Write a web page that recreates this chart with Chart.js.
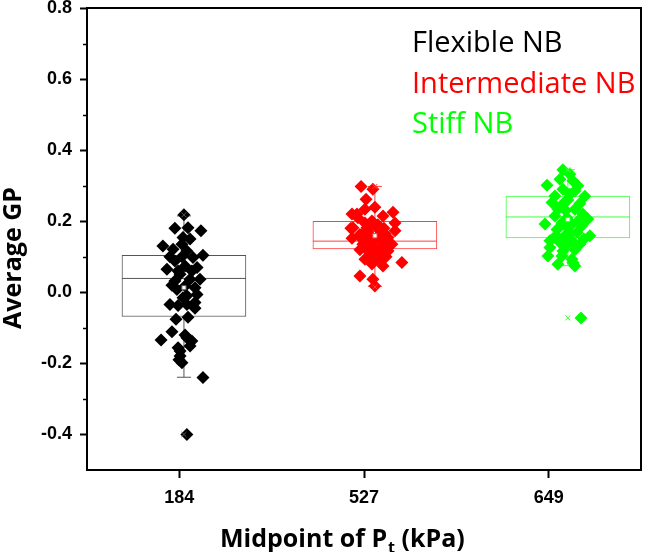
<!DOCTYPE html>
<html>
<head>
<meta charset="utf-8">
<title>Average GP</title>
<script src="https://cdn.jsdelivr.net/npm/chart.js@4.4.0/dist/chart.umd.min.js"></script>
<style>
  html, body { margin: 0; padding: 0; background: #fff; }
  canvas { display: block; }
</style>
</head>
<body>
<canvas id="chart" width="666" height="552"></canvas>
<script>
// categories sit at x = 1, 2, 3
const tickLabels = ["184", "527", "649"];
const groupNames = ["Flexible NB", "Intermediate NB", "Stiff NB"];
const groupColors = ["#000000", "#ff0000", "#00ff00"];
const boxColors = ["#555555", "#ff4040", "#40ff40"];
const yTickValues = [-0.4, -0.2, 0.0, 0.2, 0.4, 0.6, 0.8];
const yMinorTicks = [-0.3, -0.1, 0.1, 0.3, 0.5, 0.7];

// box statistics
const boxCenter = [1.025, 2.059, 3.104];
const q1 = [-0.068, 0.122, 0.153];
const median = [0.039, 0.144, 0.212];
const q3 = [0.104, 0.200, 0.271];
const whiskerLow = [-0.239, 0.017, 0.075];
const whiskerHigh = [0.215, 0.298, 0.345];
const meanVal = [0.013, 0.159, 0.205];
const minVal = [-0.400, 0.015, -0.072];
const maxVal = [0.218, 0.298, 0.345];

// scattered points (jittered x, average GP)
const flexX = [1.025, 0.976, 1.047, 1.117, 1.020, 0.911, 0.966, 1.014, 1.041, 1.128,
               1.074, 0.976, 0.933, 1.031, 1.096, 1.004, 1.112, 0.976, 1.058, 1.031,
               1.085, 0.987, 1.096, 1.041, 0.949, 0.993, 1.041, 1.085, 0.982, 1.047,
               0.960, 0.901, 1.041, 1.068, 1.058, 0.993, 1.004, 1.014, 0.998, 1.128,
               1.041, 0.949, 1.058, 0.993, 1.068, 1.020, 0.960, 1.014, 1.085, 1.004, 1.031];
const flexY = [0.218, 0.180, 0.182, 0.173, 0.154, 0.130, 0.121, 0.135, 0.116, 0.104,
               0.098, 0.088, 0.065, 0.074, 0.070, 0.051, 0.037, 0.032, 0.037, 0.018,
               0.013, 0.008, -0.006, -0.010, -0.034, -0.037, -0.034, -0.029, -0.076, -0.070,
               -0.111, -0.134, -0.128, -0.137, -0.151, -0.156, -0.179, -0.198, -0.190, -0.240,
               -0.400, 0.100, 0.150, 0.060, 0.060, -0.015, 0.020, 0.100, -0.045, -0.165, -0.120];

const midX = [1.984, 2.048, 2.011, 2.005, 2.059, 2.157, 1.935, 1.967, 2.103, 2.043,
              1.940, 2.168, 2.016, 2.086, 1.978, 2.130, 2.048, 1.994, 2.103, 2.021,
              2.075, 2.130, 2.005, 2.103, 2.205, 2.070, 1.978, 2.048, 2.059, 1.962,
              1.929, 1.935, 2.075, 2.113, 2.032, 2.151, 2.086, 2.059, 1.978, 2.119,
              2.032, 2.168, 2.005, 2.097, 2.043, 2.011,
              2.021, 2.064, 2.108, 1.989, 2.038, 2.081, 2.016, 2.124, 2.054, 2.092];
const midY = [0.298, 0.290, 0.262, 0.234, 0.239, 0.225, 0.220, 0.210, 0.215, 0.201,
              0.182, 0.173, 0.182, 0.173, 0.163, 0.154, 0.145, 0.135, 0.130, 0.116,
              0.112, 0.116, 0.093, 0.074, 0.084, 0.093, 0.046, 0.037, 0.018, 0.220,
              0.180, 0.152, 0.190, 0.165, 0.160, 0.135, 0.150, 0.125, 0.120, 0.100,
              0.105, 0.195, 0.195, 0.140, 0.080, 0.145,
              0.170, 0.185, 0.180, 0.150, 0.130, 0.160, 0.175, 0.125, 0.105, 0.095];

const stiffX = [3.077, 3.115, 3.061, 2.991, 3.131, 3.077, 3.196, 3.034, 3.115, 3.018,
                3.088, 3.050, 3.142, 3.185, 3.099, 3.212, 2.980, 3.126, 3.180, 3.045,
                3.153, 3.223, 3.088, 3.007, 3.126, 3.169, 3.007, 3.077, 2.996, 3.072,
                3.126, 3.050, 3.142, 3.131, 3.175, 3.061, 3.158, 3.104, 3.034, 3.169,
                3.061, 3.142, 3.093,
                3.104, 3.158, 3.072, 3.115, 3.191, 3.040, 3.142, 3.093];
const stiffY = [0.345, 0.332, 0.318, 0.301, 0.314, 0.290, 0.270, 0.271, 0.276, 0.253,
                0.255, 0.234, 0.234, 0.220, 0.210, 0.206, 0.192, 0.192, 0.187, 0.177,
                0.168, 0.159, 0.159, 0.145, 0.145, 0.135, 0.126, 0.116, 0.102, 0.102,
                0.093, 0.079, 0.074, 0.084, -0.072, 0.240, 0.300, 0.180, 0.215, 0.250,
                0.140, 0.120, 0.230,
                0.260, 0.200, 0.195, 0.165, 0.150, 0.160, 0.285, 0.130];

const pointX = [flexX, midX, stiffX];
const pointY = [flexY, midY, stiffY];

function pairs(xs, ys) {
    return xs.map((x, i) => ({ x: x, y: ys[i] }));
}

let datasets = [];

// 🔹 diamonds
pointX.forEach((xs, g) => {
    datasets.push({
        type: "scatter",
        label: groupNames[g],
        data: pairs(xs, pointY[g]),
        pointStyle: "rectRot",
        pointRadius: 6.5,
        backgroundColor: groupColors[g],
        borderColor: groupColors[g],
        borderWidth: 0,
        order: 2
    });
});

// 🔹 whiskers
boxCenter.forEach((c, g) => {
    datasets.push({
        type: "scatter",
        showLine: true,
        data: [{ x: c, y: whiskerLow[g] }, { x: c, y: whiskerHigh[g] }],
        borderColor: boxColors[g],
        borderWidth: 1,
        pointRadius: 0,
        order: 6
    });
});

// 🔹 whisker caps
datasets.push({
    type: "scatter",
    data: pairs(boxCenter, whiskerLow).concat(pairs(boxCenter, whiskerHigh)),
    pointStyle: "line",
    pointRadius: 7,
    borderColor: boxColors.concat(boxColors),
    borderWidth: 1,
    order: 5
});

// 🔹 boxes (floating bars)
datasets.push({
    type: "bar",
    data: boxCenter.map((c, g) => ({ x: c, y: [q1[g], q3[g]] })),
    barThickness: 124,
    backgroundColor: "#ffffff",
    borderColor: boxColors,
    borderWidth: 1,
    borderSkipped: false,
    order: 5
});

// 🔹 medians
datasets.push({
    type: "scatter",
    data: pairs(boxCenter, median),
    pointStyle: "line",
    pointRadius: 62,
    borderColor: boxColors,
    borderWidth: 1,
    order: 4
});

// 🔹 mean squares and min/max crosses
datasets.push({
    type: "scatter",
    data: pairs(boxCenter, meanVal),
    pointStyle: "rect",
    pointRadius: 3,
    backgroundColor: "#ffffff",
    borderColor: boxColors,
    borderWidth: 1,
    order: 1
});
datasets.push({
    type: "scatter",
    data: pairs(boxCenter, minVal).concat(pairs(boxCenter, maxVal)),
    pointStyle: "crossRot",
    pointRadius: 3.5,
    borderColor: boxColors.concat(boxColors),
    borderWidth: 1,
    order: 1
});

const tickFont = { family: "'Liberation Sans', Arial, sans-serif", size: 18, weight: "bold" };

// 🖊 frame, minor ticks, legend text and axis titles
const extras = {
    id: "extras",
    beforeDraw(chart) {
        const ctx = chart.ctx;
        ctx.save();
        ctx.fillStyle = "#ffffff";
        ctx.fillRect(0, 0, chart.width, chart.height);
        ctx.restore();
    },
    afterDraw(chart) {
        const ctx = chart.ctx;
        const area = chart.chartArea;
        const y = chart.scales.y;
        ctx.save();
        ctx.strokeStyle = "#000";
        ctx.lineWidth = 2;
        ctx.beginPath();
        ctx.moveTo(area.left - 1, area.top);
        ctx.lineTo(area.right, area.top);
        ctx.lineTo(area.right, area.bottom + 1);
        ctx.stroke();

        ctx.lineWidth = 1.5;
        yMinorTicks.forEach(v => {
            const py = Math.round(y.getPixelForValue(v)) + 0.5;
            ctx.beginPath();
            ctx.moveTo(area.left - 4, py);
            ctx.lineTo(area.left, py);
            ctx.stroke();
        });

        ctx.font = "29px 'Open Sans'";
        ctx.textBaseline = "alphabetic";
        ctx.textAlign = "left";
        groupNames.forEach((name, g) => {
            ctx.fillStyle = groupColors[g];
            ctx.fillText(name, 412, 52 + g * 40.5);
        });

        ctx.fillStyle = "#000";
        ctx.font = "bold 25px 'Open Sans'";
        ctx.save();
        ctx.translate(21, 258);
        ctx.rotate(-Math.PI / 2);
        ctx.textAlign = "center";
        ctx.fillText("Average GP", 0, 0);
        ctx.restore();

        let x = 220;
        const base = 547;
        ctx.fillText("Midpoint of P", x, base);
        x += ctx.measureText("Midpoint of P").width;
        ctx.font = "bold 16px 'Open Sans'";
        ctx.fillText("t", x + 1, base + 6);
        x += ctx.measureText("t").width + 1;
        ctx.font = "bold 25px 'Open Sans'";
        ctx.fillText(" (kPa)", x, base);
        ctx.restore();
    }
};

// the plot frame is fixed: y axis 87px wide, x axis 82px tall
function noPadding(s) {
    s.paddingTop = 0;
    s.paddingBottom = 0;
    s.paddingLeft = 0;
    s.paddingRight = 0;
}

new Chart(document.getElementById("chart"), {
    type: "scatter",
    data: { datasets: datasets },
    options: {
        responsive: false,
        animation: false,
        events: [],
        devicePixelRatio: 1,
        layout: { autoPadding: false, padding: { top: 8, right: 25, left: 0, bottom: 0 } },
        plugins: { legend: { display: false }, tooltip: { enabled: false } },
        scales: {
            x: {
                type: "linear",
                min: 0.5,
                max: 3.5,
                offset: false,
                afterBuildTicks: s => { s.ticks = tickLabels.map((t, i) => ({ value: i + 1 })); },
                afterFit: s => { s.height = 82; noPadding(s); },
                ticks: {
                    callback: v => tickLabels[Math.round(v) - 1],
                    font: tickFont,
                    color: "#000",
                    padding: 9,
                    maxRotation: 0
                },
                grid: { offset: false, drawOnChartArea: false, tickLength: 8, tickColor: "#000", tickWidth: 2 },
                border: { color: "#000", width: 2 }
            },
            y: {
                type: "linear",
                min: -0.5,
                max: 0.8,
                afterBuildTicks: s => { s.ticks = yTickValues.map(v => ({ value: v })); },
                afterFit: s => { s.width = 87; noPadding(s); },
                ticks: {
                    callback: v => v.toFixed(1),
                    font: tickFont,
                    color: "#000",
                    padding: 8
                },
                grid: { drawOnChartArea: false, tickLength: 7, tickColor: "#000", tickWidth: 2 },
                border: { color: "#000", width: 2 }
            }
        }
    },
    plugins: [extras]
});
</script>
</body>
</html>
